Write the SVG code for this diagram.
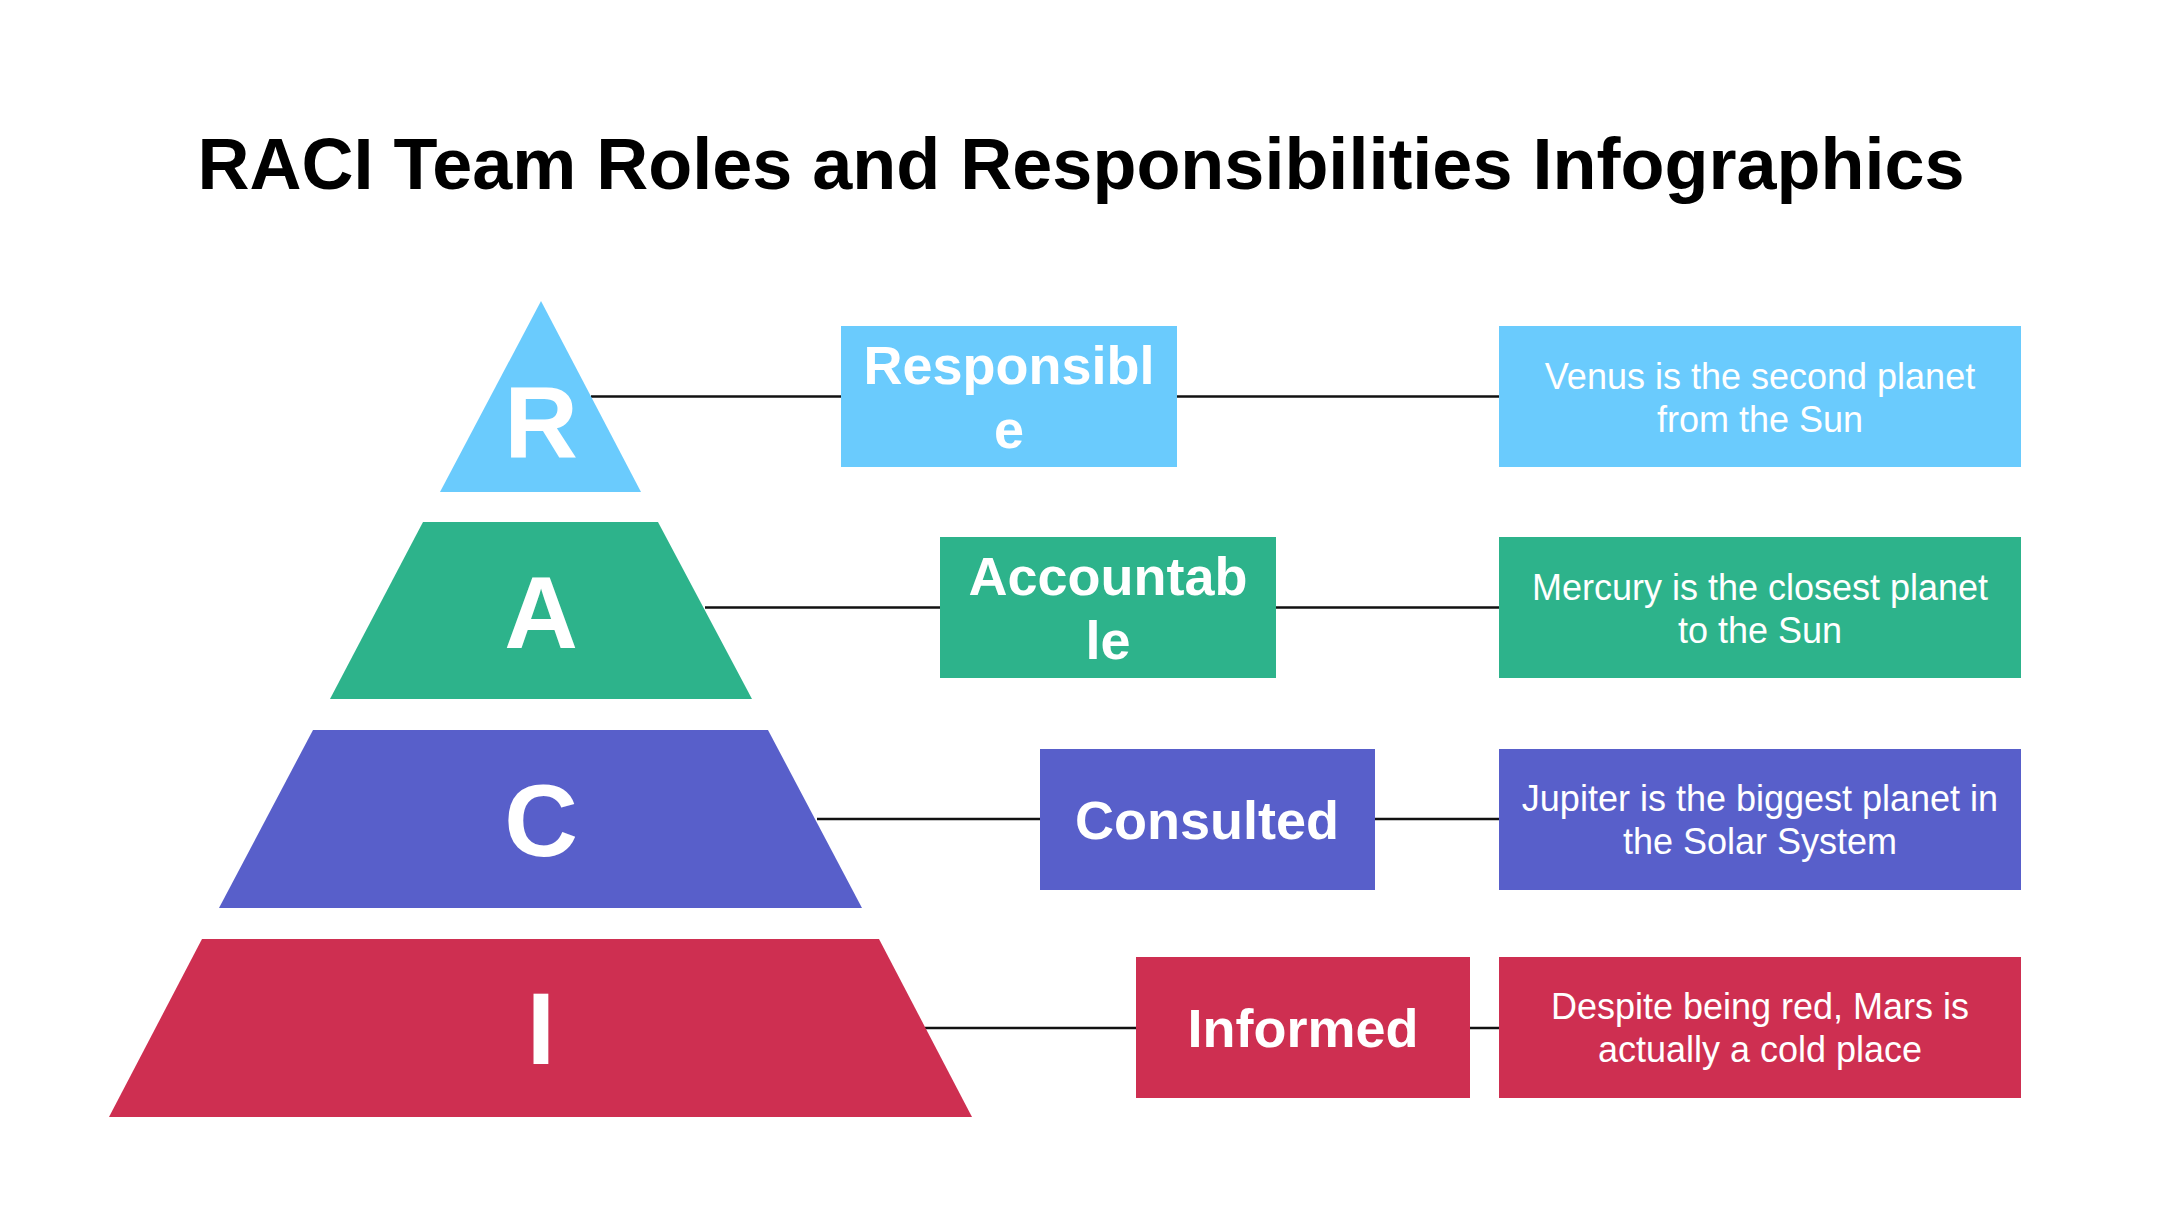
<svg xmlns="http://www.w3.org/2000/svg" width="2160" height="1215" viewBox="0 0 2160 1215">
<style>
.title{font-family:"Liberation Sans",Arial,sans-serif;font-weight:bold;font-size:72px;fill:#000;text-anchor:middle}
.letter{font-family:"Liberation Sans",Arial,sans-serif;font-weight:bold;font-size:102px;fill:#fff;text-anchor:middle}
.label{font-family:"Liberation Sans",Arial,sans-serif;font-weight:bold;font-size:54px;fill:#fff;text-anchor:middle}
.desc{font-family:"Liberation Sans",Arial,sans-serif;font-size:36px;fill:#fff;text-anchor:middle}
.conn{stroke:#111;stroke-width:2.5;fill:none}
.blue{fill:#6ACBFD}.green{fill:#2DB38B}.indigo{fill:#585FCA}.red{fill:#CE2F51}
</style>
<rect width="2160" height="1215" fill="#fff"/>
<text class="title" x="1081" y="189">RACI Team Roles and Responsibilities Infographics</text>
<g id="connectors">
<line class="conn" x1="591" y1="396.5" x2="841" y2="396.5"/>
<line class="conn" x1="1177" y1="396.5" x2="1499" y2="396.5"/>
<line class="conn" x1="705" y1="607.5" x2="940" y2="607.5"/>
<line class="conn" x1="1276" y1="607.5" x2="1499" y2="607.5"/>
<line class="conn" x1="817" y1="819" x2="1040" y2="819"/>
<line class="conn" x1="1375" y1="819" x2="1499" y2="819"/>
<line class="conn" x1="925" y1="1028" x2="1136" y2="1028"/>
<line class="conn" x1="1470" y1="1028" x2="1499" y2="1028"/>
</g>
<g id="pyramid-R">
<polygon class="blue" points="541,301 641,492 440,492"/>
<text class="letter" x="541" y="458">R</text>
</g>
<g id="pyramid-A">
<polygon class="green" points="423,522 658,522 752,699 330,699"/>
<text class="letter" x="541" y="648">A</text>
</g>
<g id="pyramid-C">
<polygon class="indigo" points="313,730 768,730 862,908 219,908"/>
<text class="letter" x="541" y="856">C</text>
</g>
<g id="pyramid-I">
<polygon class="red" points="202,939 879,939 972,1117 109,1117"/>
<text class="letter" x="541" y="1064">I</text>
</g>
<g id="label-R">
<rect class="blue" x="841" y="326" width="336" height="141"/>
<text class="label" x="1009" y="384">Responsibl</text>
<text class="label" x="1009" y="448">e</text>
</g>
<g id="label-A">
<rect class="green" x="940" y="537" width="336" height="141"/>
<text class="label" x="1108" y="595">Accountab</text>
<text class="label" x="1108" y="659">le</text>
</g>
<g id="label-C">
<rect class="indigo" x="1040" y="749" width="335" height="141"/>
<text class="label" x="1207" y="839">Consulted</text>
</g>
<g id="label-I">
<rect class="red" x="1136" y="957" width="334" height="141"/>
<text class="label" x="1303" y="1047">Informed</text>
</g>
<g id="desc-R">
<rect class="blue" x="1499" y="326" width="522" height="141"/>
<text class="desc" x="1760" y="389">Venus is the second planet</text>
<text class="desc" x="1760" y="432">from the Sun</text>
</g>
<g id="desc-A">
<rect class="green" x="1499" y="537" width="522" height="141"/>
<text class="desc" x="1760" y="600">Mercury is the closest planet</text>
<text class="desc" x="1760" y="643">to the Sun</text>
</g>
<g id="desc-C">
<rect class="indigo" x="1499" y="749" width="522" height="141"/>
<text class="desc" x="1760" y="811">Jupiter is the biggest planet in</text>
<text class="desc" x="1760" y="854">the Solar System</text>
</g>
<g id="desc-I">
<rect class="red" x="1499" y="957" width="522" height="141"/>
<text class="desc" x="1760" y="1019">Despite being red, Mars is</text>
<text class="desc" x="1760" y="1062">actually a cold place</text>
</g>
</svg>
